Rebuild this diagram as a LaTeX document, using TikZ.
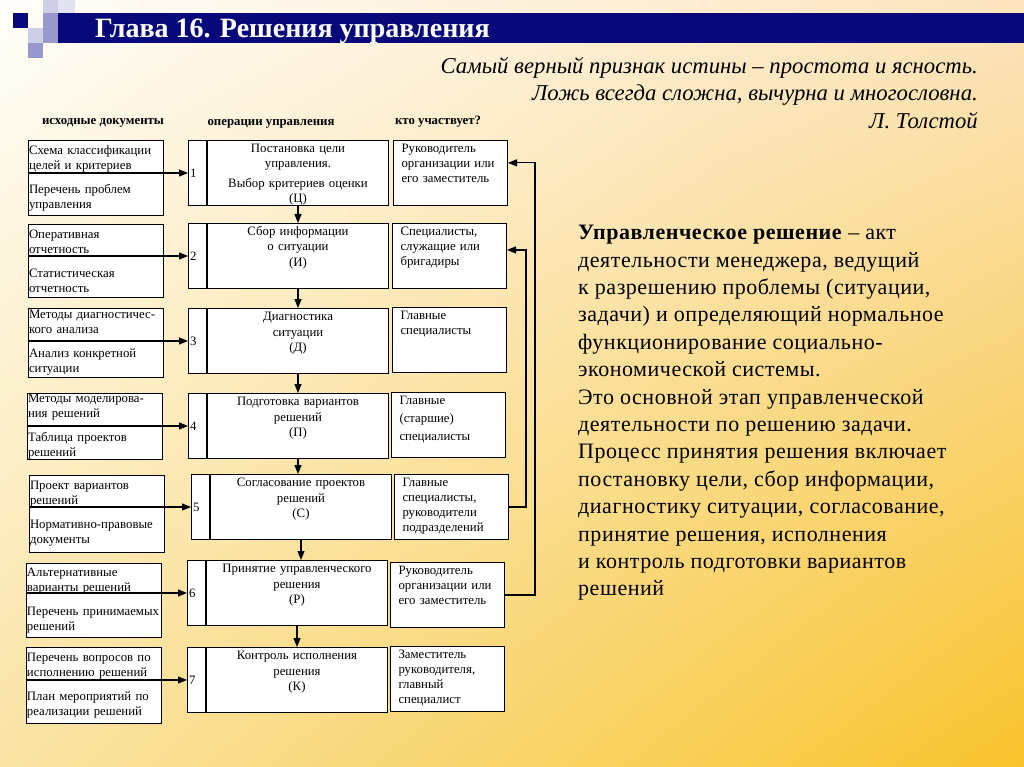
\documentclass[tikz,border=0pt]{standalone}
\usepackage{fontspec}
\setmainfont{Liberation Serif}
\usetikzlibrary{arrows.meta,positioning,calc,shadings}

\definecolor{barnavy}{RGB}{8,8,122}
\definecolor{sqmid}{RGB}{152,152,204}
\definecolor{sqlight}{RGB}{206,206,230}
\definecolor{bgtl}{RGB}{255,254,250}
\definecolor{bgtr}{RGB}{252,228,190}
\definecolor{bgbl}{RGB}{250,228,165}
\definecolor{bgbr}{RGB}{248,196,44}

\begin{document}
\begin{tikzpicture}[
    x=1pt, y=-1pt,
    docbox/.style={rectangle, draw, fill=white, line width=1pt, anchor=north west, text width=134pt, inner xsep=0.5pt, inner ysep=0pt, align=left, minimum height=#1, font=\fontsize{12.8}{15}\selectfont},
    numbox/.style={rectangle, draw, fill=white, line width=1pt, anchor=north west, minimum height=65pt, text width=15pt, inner xsep=1.5pt, align=left, font=\fontsize{12.8}{15}\selectfont},
    opbox/.style={rectangle, draw, fill=white, line width=1pt, text width=177pt, inner xsep=2pt, inner ysep=3pt, align=center, text height=9pt, text depth=50pt, font=\fontsize{12.8}{15.5}\selectfont},
    whobox/.style={rectangle, draw, fill=white, line width=1pt, anchor=north west, text width=98pt, inner xsep=8pt, inner ysep=3pt, align=left, text height=9pt, text depth=50pt, font=\fontsize{12.8}{15}\selectfont},
    colhead/.style={font=\fontsize{12.8}{14}\selectfont\bfseries, inner sep=0pt},
    arrow/.style={-{Triangle[length=9pt,width=7pt]}, line width=1.1pt}
]

    % Background and title bar
    \useasboundingbox (0,0) rectangle (1024,767);
    \shade[upper left=bgtl, upper right=bgtr, lower left=bgbl, lower right=bgbr] (0,0) rectangle (1024,767);
    \fill[barnavy] (58,13) rectangle (1024,43);
    \fill[barnavy] (13,13) rectangle (28,28);
    \fill[sqlight] (43,0) rectangle (58,13);
    \fill[sqlight!60!white] (58,0) rectangle (75,13);
    \fill[sqmid] (43,13) rectangle (58,28);
    \fill[sqlight] (28,28) rectangle (43,43);
    \fill[sqmid] (43,28) rectangle (58,43);
    \fill[sqmid] (28,43) rectangle (43,58);
    \node (title) [anchor=base west, inner sep=0pt, text=white, font=\fontsize{28}{30}\selectfont\bfseries] at (95,38) {Глава 16. Решения управления};

    % Quotation
    \node (quote) [anchor=north east, inner sep=0pt, align=right, font=\fontsize{22.7}{27.5}\selectfont\itshape] at (978,57) {Самый верный признак истины – простота и ясность.\\Ложь всегда сложна, вычурна и многословна.\\Л. Толстой};

    % Column headings
    \node (hdoc) [colhead] at (103,123) {исходные документы};
    \node (hop) [colhead] at (271,124) {операции управления};
    \node (hwho) [colhead] at (438,122) {кто участвует?};

    % Left column: source documents
    \node (doc1) [docbox=75pt] at (28,140) {Схема классификации\\целей и критериев\\[9pt]Перечень проблем\\управления};
    \node (doc2) [docbox=73pt] at (28,224) {Оперативная\\отчетность\\[9pt]Статистическая\\отчетность};
    \node (doc3) [docbox=69pt] at (28,308) {Методы диагностичес-\\кого анализа\\[9pt]Анализ конкретной\\ситуации};
    \node (doc4) [docbox=66pt] at (27,393) {Методы моделирова-\\ния решений\\[9pt]Таблица проектов\\решений};
    \node (doc5) [docbox=77pt] at (29,475) {Проект вариантов\\решений\\[9pt]Нормативно-правовые\\документы};
    \node (doc6) [docbox=74pt] at (26,563) {Альтернативные\\варианты решений\\[9pt]Перечень принимаемых\\решений};
    \node (doc7) [docbox=76pt] at (26,647) {Перечень вопросов по\\исполнению решений\\[9pt]План мероприятий по\\реализации решений};

    % Middle column: numbered operations
    \node (n1) [numbox] at (188,140) {1};
    \node (op1) [opbox, right=0pt of n1] {Постановка цели\\управления.\\[4pt]Выбор критериев оценки\\(Ц)};
    \node (n2) [numbox] at (188,223) {2};
    \node (op2) [opbox, right=0pt of n2] {Сбор информации\\о ситуации\\(И)};
    \node (n3) [numbox] at (188,308) {3};
    \node (op3) [opbox, right=0pt of n3] {Диагностика\\ситуации\\(Д)};
    \node (n4) [numbox] at (188,393) {4};
    \node (op4) [opbox, right=0pt of n4] {Подготовка вариантов\\решений\\(П)};
    \node (n5) [numbox] at (191,474) {5};
    \node (op5) [opbox, right=0pt of n5] {Согласование проектов\\решений\\(С)};
    \node (n6) [numbox] at (187,560) {6};
    \node (op6) [opbox, right=0pt of n6] {Принятие управленческого\\решения\\(Р)};
    \node (n7) [numbox] at (187,647) {7};
    \node (op7) [opbox, right=0pt of n7] {Контроль исполнения\\решения\\(К)};

    % Right column: participants
    \node (who1) [whobox] at (393,140) {Руководитель\\организации или\\его заместитель};
    \node (who2) [whobox] at (392,223) {Специалисты,\\служащие или\\бригадиры};
    \node (who3) [whobox] at (392,307) {Главные\\специалисты};
    \node (who4) [whobox] at (391,392) {Главные\\[3pt](старшие)\\[3pt]специалисты};
    \node (who5) [whobox] at (394,474) {Главные\\специалисты,\\руководители\\подразделений};
    \node (who6) [whobox] at (390,562) {Руководитель\\организации или\\его заместитель};
    \node (who7) [whobox] at (390,646) {Заместитель\\руководителя,\\главный\\специалист};

    % Documents feed the operations
    \foreach \i in {1,...,7} {
        \draw [arrow] (doc\i.west |- n\i.west) -- (n\i.west);
    }

    % Operations chain
    \foreach \i [evaluate=\i as \j using int(\i+1)] in {1,...,6} {
        \draw [arrow] (op\i.south) -- (op\i.south |- op\j.north);
    }

    % Feedback from participants
    \draw [arrow] (who6.east) -- ++(30,0) |- (who1.10);
    \draw [arrow] (who5.east) -- ++(17,0) |- (who2.6);

    % Definition text
    \node (defn) [anchor=north west, inner sep=0pt, align=left, font=\fontsize{22}{27.4}\selectfont\addfontfeature{LetterSpace=2.4}] at (578,225) {\textbf{Управленческое решение} – акт\\деятельности менеджера, ведущий\\к разрешению проблемы (ситуации,\\задачи) и определяющий нормальное\\функционирование социально-\\экономической системы.\\Это основной этап управленческой\\деятельности по решению задачи.\\Процесс принятия решения включает\\постановку цели, сбор информации,\\диагностику ситуации, согласование,\\принятие решения, исполнения\\и контроль подготовки вариантов\\решений};

\end{tikzpicture}
\end{document}
